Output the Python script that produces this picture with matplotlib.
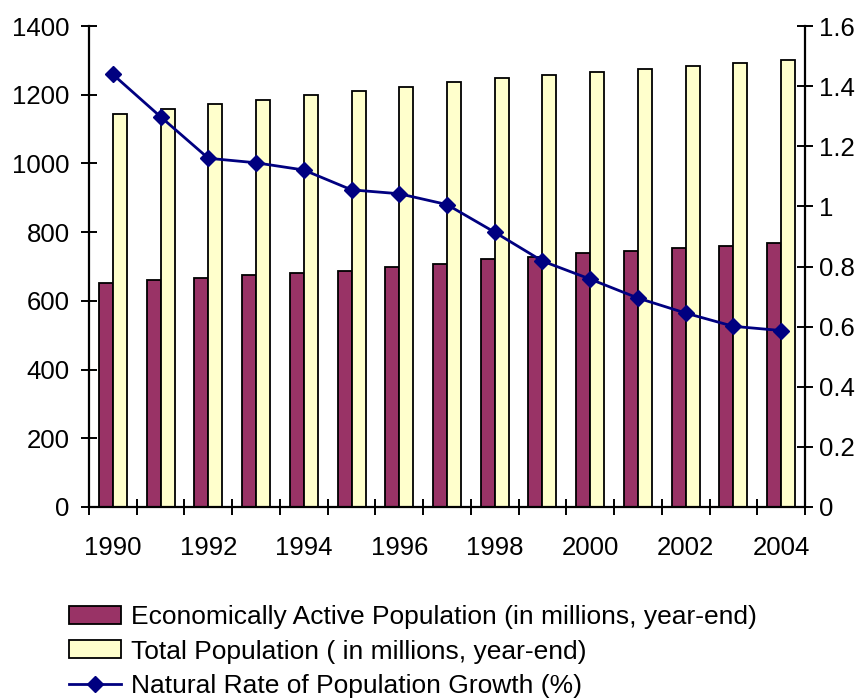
import matplotlib
matplotlib.use("Agg")
import matplotlib.pyplot as plt
import numpy as np
from matplotlib.lines import Line2D
from matplotlib.patches import Patch

years = [1990, 1991, 1992, 1993, 1994, 1995, 1996, 1997, 1998, 1999,
         2000, 2001, 2002, 2003, 2004]
active_pop = [653.23, 660.91, 667.82, 674.68, 681.35, 687.37, 697.65, 708.00,
              720.87, 727.91, 739.92, 744.32, 753.60, 760.75, 768.23]
total_pop = [1143.33, 1158.23, 1171.71, 1185.17, 1198.50, 1211.21, 1223.89,
             1236.26, 1247.61, 1257.86, 1267.43, 1276.27, 1284.53, 1292.27,
             1299.88]
growth_rate = [1.439, 1.298, 1.160, 1.145, 1.121, 1.055, 1.042, 1.006, 0.914,
               0.818, 0.758, 0.695, 0.645, 0.601, 0.587]

label_active = "Economically Active Population (in millions, year-end)"
label_total = "Total Population ( in millions, year-end)"
label_rate = "Natural Rate of Population Growth (%)"

plt.rcParams["font.family"] = ["Liberation Sans", "DejaVu Sans"]
FS = 18.5
FS_LEG = 19

W, H = 865, 700
fig = plt.figure(figsize=(W / 100, H / 100), dpi=100)
ax = fig.add_axes([89 / W, 1 - 507 / H, (805 - 89) / W, (507 - 26) / H])
ax2 = ax.twinx()

x = np.arange(len(years))
bw = 0.293
maroon = "#993366"
cream = "#FFFFCC"
navy = "#000080"

ax.bar(x - bw / 2, active_pop, bw, color=maroon, edgecolor="black",
       linewidth=1.3, zorder=2)
ax.bar(x + bw / 2, total_pop, bw, color=cream, edgecolor="black",
       linewidth=1.3, zorder=2)
ax2.plot(x, growth_rate, color=navy, linewidth=2.0, marker="D",
         markersize=8.5, markerfacecolor=navy, markeredgecolor=navy,
         zorder=3)

ax.set_xlim(-0.5, len(years) - 0.5)
ax.set_ylim(0, 1400)
ax2.set_ylim(0, 1.6)
ax.set_yticks(np.arange(0, 1401, 200))
ax2.set_yticks(np.arange(0, 1.61, 0.2))
ax2.set_yticklabels(["0", "0.2", "0.4", "0.6", "0.8", "1", "1.2", "1.4", "1.6"])

# tick marks on category boundaries, labels on every other category
ax.set_xticks(np.arange(-0.5, len(years), 1.0))
ax.set_xticklabels([])
ax.set_xticks(x[::2], minor=True)
ax.set_xticklabels([str(y) for y in years[::2]], minor=True)
ax.tick_params(axis="x", which="minor", length=0, pad=21, labelsize=FS)
ax.tick_params(axis="x", which="major", direction="inout", length=12,
               width=1.4)
ax.tick_params(axis="y", direction="inout", length=12, width=1.4,
               labelsize=FS, pad=8)
ax2.tick_params(axis="y", direction="inout", length=12, width=1.4,
                labelsize=FS, pad=4)

for a in (ax, ax2):
    a.spines["top"].set_visible(False)
    for s in ("left", "right", "bottom"):
        a.spines[s].set_linewidth(1.6)
ax.spines["right"].set_visible(False)
ax2.spines["left"].set_visible(False)
ax2.spines["bottom"].set_visible(False)
ax.set_zorder(ax2.get_zorder() - 1)
ax.patch.set_visible(True)
ax2.patch.set_visible(False)

handles = [
    Patch(facecolor=maroon, edgecolor="black", linewidth=1.3),
    Patch(facecolor=cream, edgecolor="black", linewidth=1.3),
    Line2D([0], [0], color=navy, linewidth=2.0, marker="D", markersize=8.5,
           markerfacecolor=navy, markeredgecolor=navy),
]
fig.legend(handles, [label_active, label_total, label_rate],
           loc="upper left", bbox_to_anchor=(69 / W, 1 - 605 / H),
           frameon=False, fontsize=FS_LEG, handlelength=1.98,
           handleheight=0.65, handletextpad=0.36, labelspacing=0.4,
           borderpad=0, borderaxespad=0)

fig.savefig("out.png", dpi=100)
